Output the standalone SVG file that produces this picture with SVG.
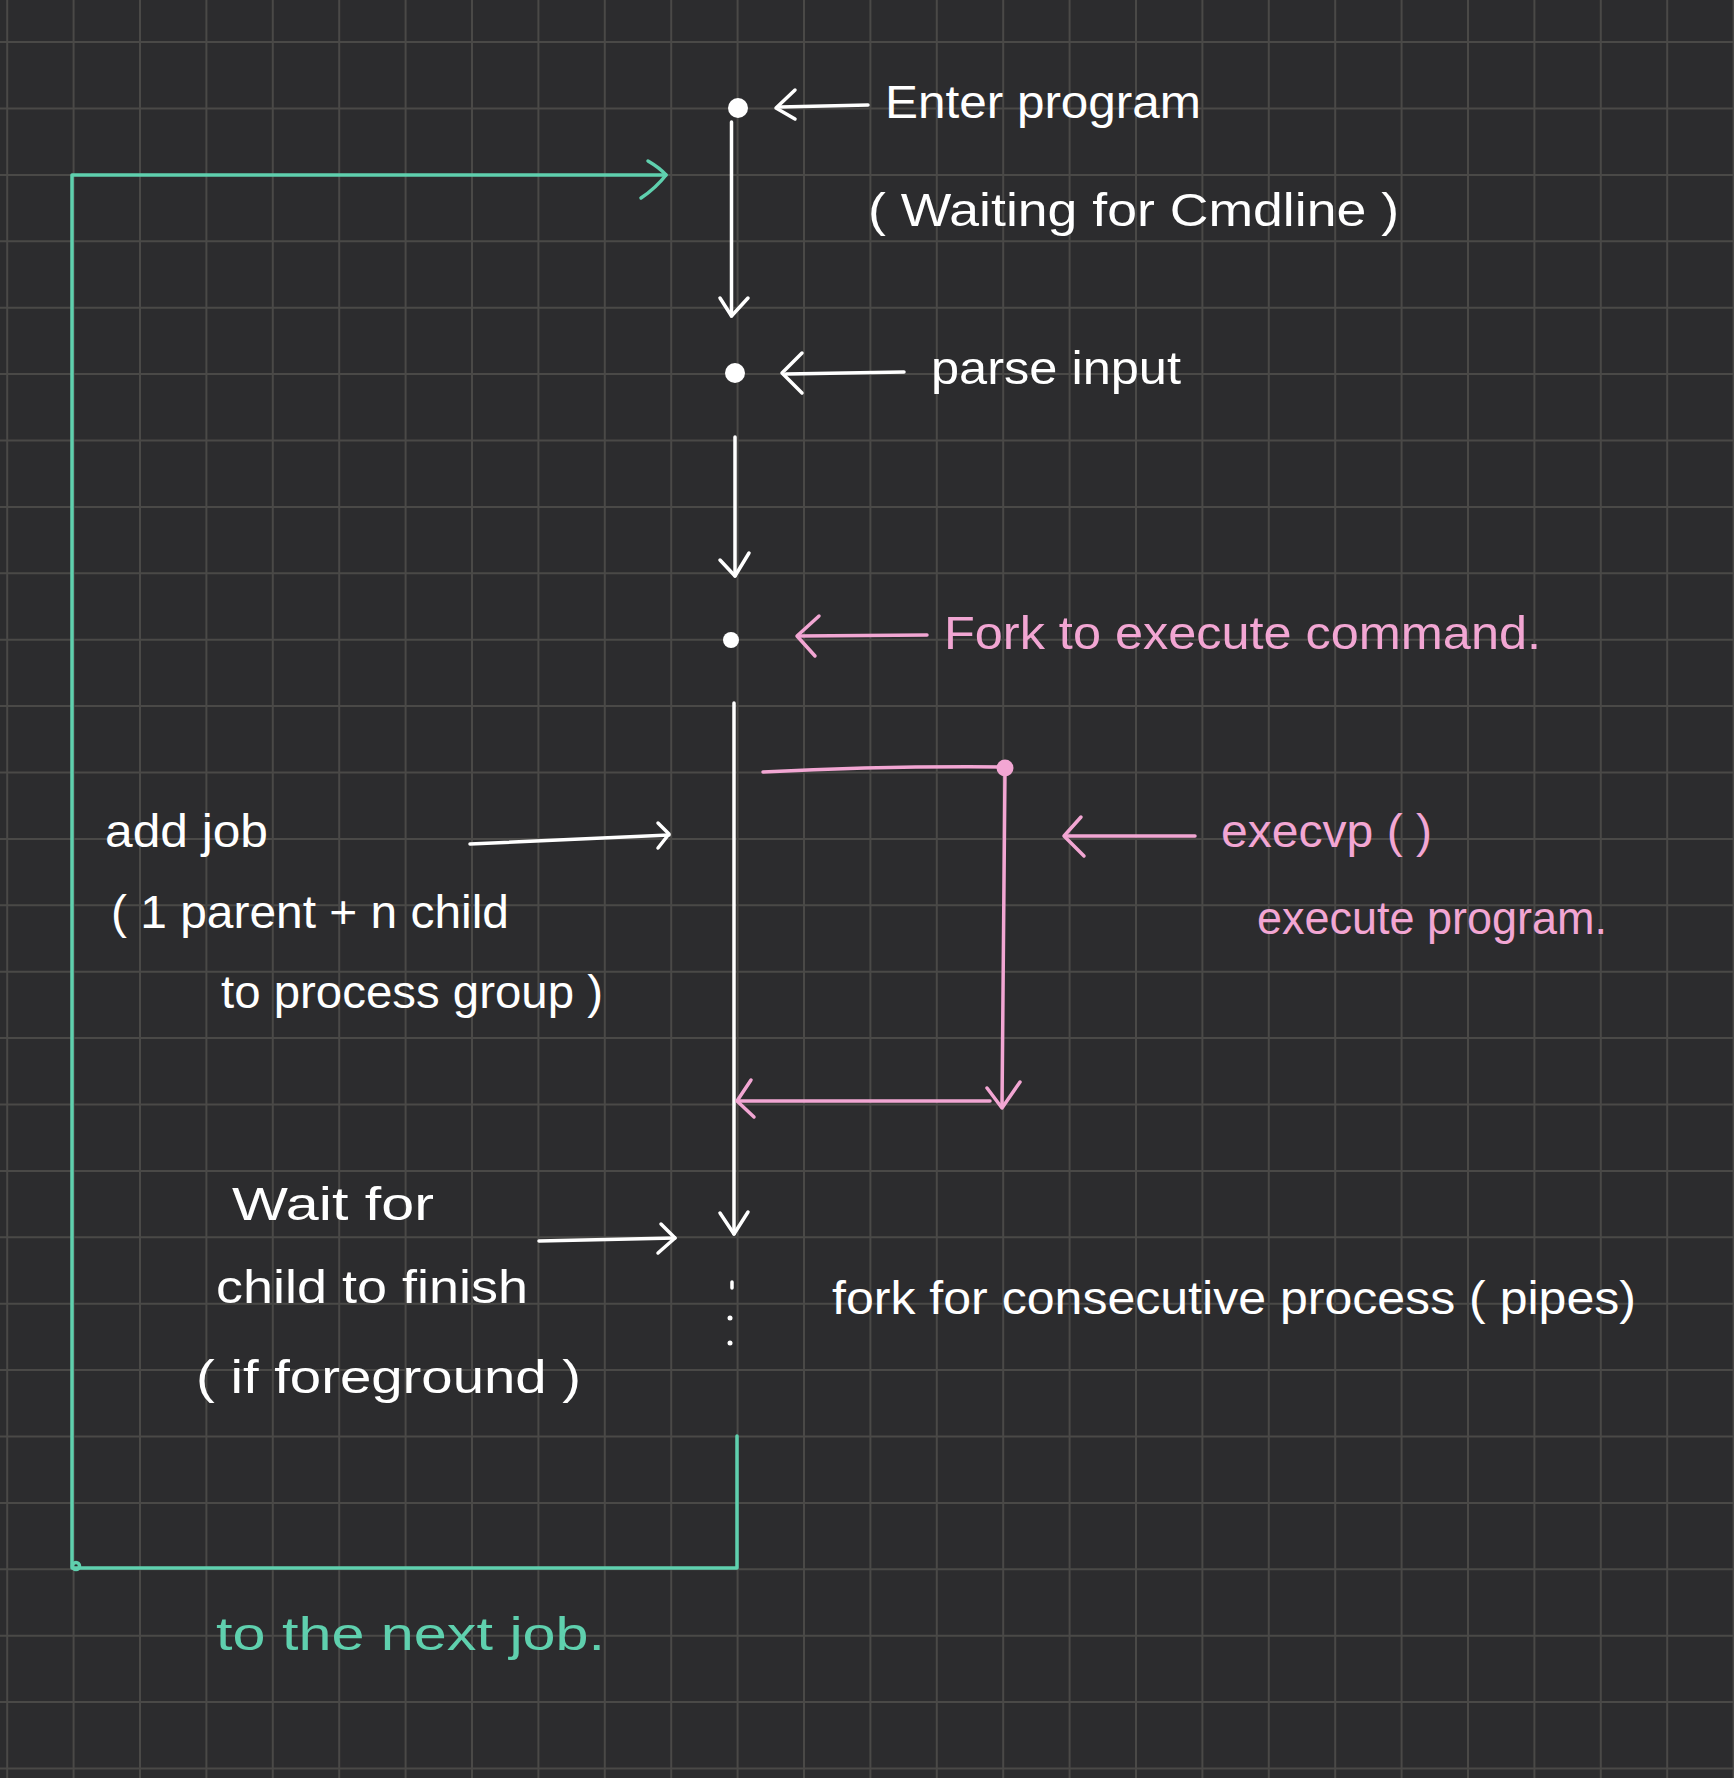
<svg xmlns="http://www.w3.org/2000/svg" width="1734" height="1778" viewBox="0 0 1734 1778">
  <style>
    .grid { stroke: #4a4947; stroke-width: 2; fill: none; }
    .w { stroke: #ffffff; stroke-width: 3.5; fill: none; stroke-linecap: round; stroke-linejoin: round; }
    .p { stroke: #f2a6d3; stroke-width: 3.5; fill: none; stroke-linecap: round; stroke-linejoin: round; }
    .t { stroke: #5fd0ae; stroke-width: 3.5; fill: none; stroke-linecap: round; stroke-linejoin: round; }
    text { font-family: "Liberation Sans", "DejaVu Sans", sans-serif; font-size: 46px; }
    .tw { fill: #ffffff; }
    .tp { fill: #f2a6d3; }
    .tt { fill: #5fd0ae; }
  </style>
  <rect x="0" y="0" width="1734" height="1778" fill="#2c2c2e"/>
  <g id="grid">
    <path class="grid" d="M7.2 0V1778M73.6 0V1778M140 0V1778M206.4 0V1778M272.8 0V1778M339.2 0V1778M405.6 0V1778M472 0V1778M538.4 0V1778M604.8 0V1778M671.2 0V1778M737.6 0V1778M804 0V1778M870.4 0V1778M936.8 0V1778M1003.2 0V1778M1069.6 0V1778M1136 0V1778M1202.4 0V1778M1268.8 0V1778M1335.2 0V1778M1401.6 0V1778M1468 0V1778M1534.4 0V1778M1600.8 0V1778M1667.2 0V1778M1733.6 0V1778"/>
    <path class="grid" d="M0 42.1H1734M0 108.5H1734M0 174.9H1734M0 241.3H1734M0 307.7H1734M0 374.1H1734M0 440.5H1734M0 506.9H1734M0 573.3H1734M0 639.7H1734M0 706.1H1734M0 772.5H1734M0 838.9H1734M0 905.3H1734M0 971.7H1734M0 1038.1H1734M0 1104.5H1734M0 1170.9H1734M0 1237.3H1734M0 1303.7H1734M0 1370.1H1734M0 1436.5H1734M0 1502.9H1734M0 1569.3H1734M0 1635.7H1734M0 1702.1H1734M0 1768.5H1734"/>
  </g>

  <g id="connectors">
    <!-- teal loop back -->
    <path class="t" d="M737 1436V1568H72V175H666"/>
    <path class="t" d="M648 161Q660 168 666 175Q656 188 641 198"/>
    <circle class="t" cx="76" cy="1566" r="3.5" stroke-width="2.5"/>
    <!-- enter -> parse -->
    <path class="w" d="M731.5 122V316"/>
    <path class="w" d="M720 298L731.5 316L748 298"/>
    <!-- label arrow enter -->
    <path class="w" d="M780 107L868 105"/>
    <path class="w" d="M795 90L776 108L795 119"/>
    <!-- label arrow parse -->
    <path class="w" d="M786 374L904 372"/>
    <path class="w" d="M802 353L782 373L802 393"/>
    <!-- parse -> fork -->
    <path class="w" d="M735 437V576"/>
    <path class="w" d="M720 560L735 576L749 553"/>
    <!-- label arrow fork -->
    <path class="p" d="M800 636L927 635"/>
    <path class="p" d="M819 616L797 636L815 656"/>
    <!-- main vertical -->
    <path class="w" d="M734 703V1234"/>
    <path class="w" d="M720 1213L734 1234L748 1212"/>
    <!-- child branch -->
    <path class="p" d="M763 772Q880 766 1003 767"/>
    <path class="p" d="M1005 770L1002 1106"/>
    <path class="p" d="M987 1088L1002 1108L1020 1082"/>
    <path class="p" d="M990 1101H738"/>
    <path class="p" d="M751 1080L737 1101L754 1117"/>
    <!-- label arrow execvp -->
    <path class="p" d="M1066 836H1195"/>
    <path class="p" d="M1081 817L1064 836L1084 856"/>
    <!-- add job arrow -->
    <path class="w" d="M470 844L669 835"/>
    <path class="w" d="M658 823L669 834L658 848"/>
    <!-- wait for arrow -->
    <path class="w" d="M539 1241L675 1238"/>
    <path class="w" d="M661 1224L675 1238L658 1253"/>
    <!-- continuation dots -->
    <path class="w" d="M732 1282V1288" stroke-width="3"/>
    <circle cx="730" cy="1318" r="2.5" fill="#ffffff"/>
    <circle cx="730" cy="1343" r="2.5" fill="#ffffff"/>
  </g>

  <g id="node-enter">
    <circle cx="738" cy="108" r="10" fill="#ffffff"/>
    <text class="tw" x="885" y="118" textLength="316" lengthAdjust="spacingAndGlyphs">Enter program</text>
    <text class="tw" x="868" y="226" font-size="42" textLength="531" lengthAdjust="spacingAndGlyphs">( Waiting for Cmdline )</text>
  </g>
  <g id="node-parse">
    <circle cx="735" cy="373" r="10" fill="#ffffff"/>
    <text class="tw" x="931" y="384" textLength="250" lengthAdjust="spacingAndGlyphs">parse input</text>
  </g>
  <g id="node-fork">
    <circle cx="731" cy="640" r="8" fill="#ffffff"/>
    <text class="tp" x="944" y="649" font-size="50" textLength="597" lengthAdjust="spacingAndGlyphs">Fork to execute command.</text>
  </g>
  <g id="node-execvp">
    <circle cx="1005" cy="768" r="8.5" fill="#f2a6d3"/>
    <text class="tp" x="1221" y="847" font-size="42" textLength="211" lengthAdjust="spacingAndGlyphs">execvp ( )</text>
    <text class="tp" x="1257" y="934" font-size="46" textLength="350" lengthAdjust="spacingAndGlyphs">execute program.</text>
  </g>
  <g id="node-addjob">
    <text class="tw" x="105" y="847" textLength="163" lengthAdjust="spacingAndGlyphs">add job</text>
    <text class="tw" x="111" y="928" font-size="44" textLength="398" lengthAdjust="spacingAndGlyphs">( 1 parent + n child</text>
    <text class="tw" x="221" y="1008" font-size="44" textLength="382" lengthAdjust="spacingAndGlyphs">to process group )</text>
  </g>
  <g id="node-wait">
    <text class="tw" x="232" y="1220" textLength="202" lengthAdjust="spacingAndGlyphs">Wait for</text>
    <text class="tw" x="216" y="1303" textLength="312" lengthAdjust="spacingAndGlyphs">child to finish</text>
    <text class="tw" x="196" y="1393" textLength="385" lengthAdjust="spacingAndGlyphs">( if foreground )</text>
  </g>
  <g id="node-pipes">
    <text class="tw" x="832" y="1314" font-size="44" textLength="804" lengthAdjust="spacingAndGlyphs">fork for consecutive process ( pipes)</text>
  </g>
  <g id="node-nextjob">
    <text class="tt" x="216" y="1650" font-size="44" textLength="389" lengthAdjust="spacingAndGlyphs">to the next job.</text>
  </g>
</svg>
